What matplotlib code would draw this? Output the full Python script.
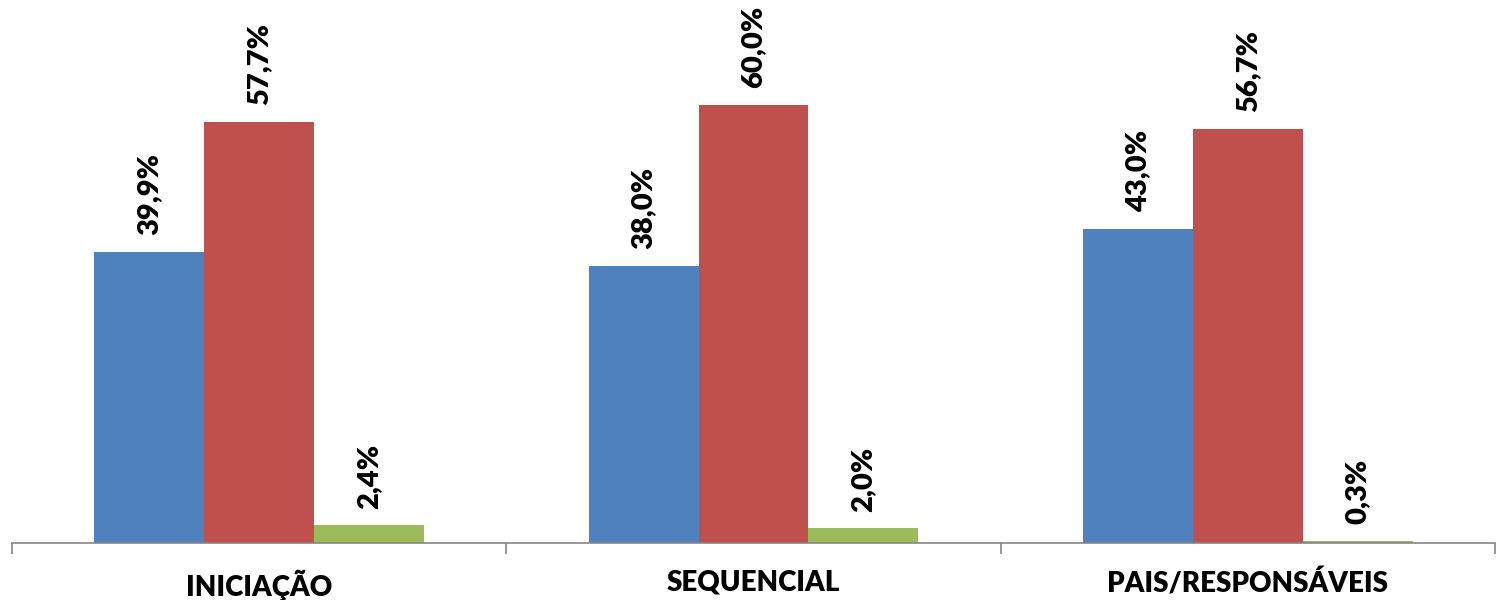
import matplotlib
matplotlib.use("Agg")
import matplotlib.pyplot as plt
import numpy as np

categories = ["INICIAÇÃO", "SEQUENCIAL", "PAIS/RESPONSÁVEIS"]
serie_azul = [39.9, 38.0, 43.0]
serie_vermelha = [57.7, 60.0, 56.7]
serie_verde = [2.4, 2.0, 0.3]
series = [serie_azul, serie_vermelha, serie_verde]
colors = ["#4F81BD", "#C0504D", "#9BBB59"]

FONT = "Lato"
WEIGHT = "heavy"
fig = plt.figure(figsize=(14.97, 6.0), dpi=100)
ax = fig.add_axes([12/1497, 57/600, (1495-12)/1497, 543/600])

w = 1/4.5
x = np.arange(len(categories))
for i, (vals, c) in enumerate(zip(series, colors)):
    pos = x + (i - 1) * w
    bars = ax.bar(pos, vals, width=w, color=c, edgecolor="none")
    for b, v in zip(bars, vals):
        ax.annotate(f"{v:.1f}%".replace(".", ","),
                    (b.get_x() + b.get_width()/2, b.get_height()),
                    xytext=(0, 12.0), textcoords="offset points",
                    rotation=90, ha="center", va="bottom",
                    fontsize=21, fontweight=WEIGHT, family=FONT, color="black")

ax.set_xlim(-0.5, 2.5)
ax.set_ylim(0, 543/7.3)
for s in ["top", "right", "left"]:
    ax.spines[s].set_visible(False)
ax.spines["bottom"].set_color("#868686")
ax.spines["bottom"].set_linewidth(1.2)
ax.set_yticks([])
ax.set_xticks([-0.5, 0.5, 1.5, 2.5])
ax.set_xticklabels([])
ax.tick_params(axis="x", which="major", length=8, color="#868686", width=1.2)
ax.set_xticks(x, minor=True)
ax.set_xticklabels(categories, minor=True, fontsize=20, fontweight=WEIGHT, family=FONT)
ax.tick_params(axis="x", which="minor", length=0, pad=19)

fig.savefig("out.png", dpi=100)
